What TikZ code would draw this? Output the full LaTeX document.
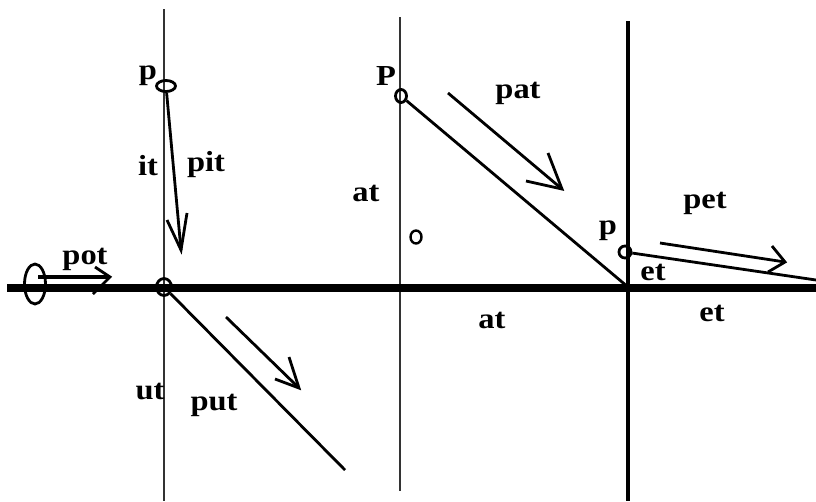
\documentclass[tikz,border=0pt]{standalone}
\usepackage{fontspec}
\newfontfamily\lblfont[FakeStretch=1.12]{Liberation Serif}
\usetikzlibrary{shapes.geometric}
\begin{document}
\begin{tikzpicture}[x=1pt,y=-1pt,
  thinline/.style={line width=1.5pt, black!80},
  axis/.style={line width=8pt},
  wall/.style={line width=4pt},
  ray/.style={line width=2.8pt},
  arr/.style={line width=2.8pt, line join=miter},
  ring/.style={draw, ellipse, line width=2.8pt, inner sep=0pt},
  lbl/.style={font=\lblfont\bfseries\fontsize{29}{32}\selectfont, inner sep=0pt}]
\useasboundingbox[fill=white] (0,0) rectangle (816,501);

% frame lines
\coordinate (v1t) at (164,9);   \coordinate (v1b) at (164,501);
\coordinate (v2t) at (400,17);  \coordinate (v2b) at (400,491);
\coordinate (v3t) at (628,21);  \coordinate (v3b) at (628,501);
\coordinate (hl) at (7,288);    \coordinate (hr) at (816,288);
\draw[thinline] (v1t) -- (v1b);
\draw[thinline] (v2t) -- (v2b);
\draw[wall] (v3t) -- (v3b);
\draw[axis] (hl) -- (hr);

% rings
\node[ring, minimum width=21pt, minimum height=40pt] (e0) at (35,284) {};
\node[ring, minimum width=15pt, minimum height=17pt] (c1) at (164,287) {};
\node[ring, minimum width=19pt, minimum height=11pt] (c2) at (166,86) {};
\node[ring, minimum width=11pt, minimum height=13pt] (c3) at (401,96) {};
\node[ring, minimum width=11pt, minimum height=13pt, line width=2.4pt] (c4) at (416,237) {};
\node[ring, minimum width=12pt, minimum height=12pt] (c5) at (625,252) {};

% rays
\coordinate (x3) at (628,287);
\coordinate (x5) at (816,280);
\coordinate (x1) at (345,470);
\draw[ray] (c3) -- (x3);
\draw[ray] (c5) -- (x5);
\draw[ray] (c1) -- (x1);

% pit arrow
\coordinate (pitT) at (181,250);
\coordinate (pitA) at (167,220);
\coordinate (pitB) at (187,213);
\draw[arr] (c2) -- (pitT);
\draw[arr] (pitA) -- (pitT) -- (pitB);

% pat arrow
\coordinate (patS) at (448,93);
\coordinate (patT) at (562,189);
\coordinate (patA) at (548,153);
\coordinate (patB) at (526,181);
\draw[arr] (patS) -- (patT);
\draw[arr] (patA) -- (patT) -- (patB);

% pet arrow
\coordinate (petS) at (660,243);
\coordinate (petT) at (785,262);
\coordinate (petA) at (772,246);
\coordinate (petB) at (768,272);
\draw[arr] (petS) -- (petT);
\draw[arr] (petA) -- (petT) -- (petB);

% put arrow
\coordinate (putS) at (226,317);
\coordinate (putT) at (299,388);
\coordinate (putA) at (289,357);
\coordinate (putB) at (275,379);
\draw[arr] (putS) -- (putT);
\draw[arr] (putA) -- (putT) -- (putB);

% pot arrow
\coordinate (potS) at (38,277);
\coordinate (potT) at (110,277);
\coordinate (potA) at (95,267);
\coordinate (potB) at (93,294);
\draw[arr, line width=3.5pt] (potS) -- (potT);
\draw[arr] (potA) -- (potT) -- (potB);

% labels
\node[lbl] (lpot) at (85,259) {pot};
\node[lbl] (lp1) at (148,76) {p};
\node[lbl] (lit) at (148,166) {it};
\node[lbl] (lpit) at (206,165) {pit};
\node[lbl] (lat1) at (366,193) {at};
\node[lbl] (lP) at (386,76) {P};
\node[lbl] (lpat) at (518,93) {pat};
\node[lbl] (lat2) at (492,320) {at};
\node[lbl] (lp2) at (608,231) {p};
\node[lbl] (lpet) at (705,203) {pet};
\node[lbl] (let1) at (653,272) {et};
\node[lbl] (let2) at (712,313) {et};
\node[lbl] (lut) at (150,392) {ut};
\node[lbl] (lput) at (214,405) {put};
\end{tikzpicture}
\end{document}
